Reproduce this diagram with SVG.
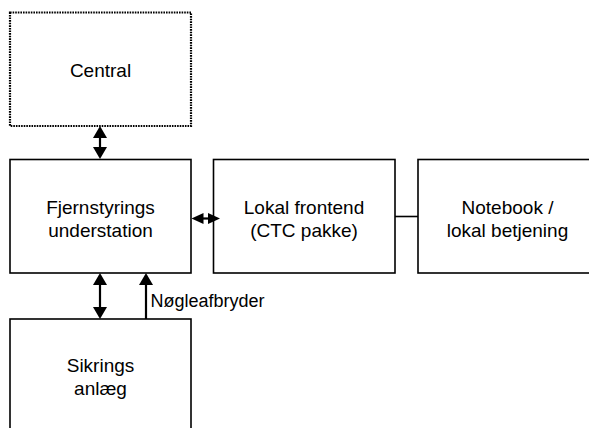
<svg xmlns="http://www.w3.org/2000/svg" width="589" height="428" viewBox="0 0 589 428">
  <style>
    .box { fill: #ffffff; stroke: #000000; stroke-width: 1.6; }
    .dotted { fill: #ffffff; stroke: #000000; stroke-width: 2.2; stroke-dasharray: 1.6 1; }
    .lbl { font-family: "Liberation Sans", Arial, sans-serif; font-size: 19px; fill: #000000; text-anchor: middle; }
    .note { font-family: "Liberation Sans", Arial, sans-serif; font-size: 18px; fill: #000000; }
    .wire { stroke: #000000; stroke-width: 2.2; fill: none; }
    .plain { stroke: #000000; stroke-width: 1.6; fill: none; }
  </style>
  <defs>
    <marker id="headV" markerUnits="userSpaceOnUse" markerWidth="12" markerHeight="14" refX="6" refY="7" orient="auto-start-reverse" viewBox="0 0 12 14">
      <path d="M0,0 L12,7 L0,14 z" fill="#000000"/>
    </marker>
    <marker id="headH" markerUnits="userSpaceOnUse" markerWidth="12" markerHeight="11" refX="6" refY="5.5" orient="auto-start-reverse" viewBox="0 0 12 11">
      <path d="M0,0 L12,5.5 L0,11 z" fill="#000000"/>
    </marker>
  </defs>

  <g id="central">
    <rect class="dotted" x="10" y="12.5" width="181" height="113.5"/>
    <text class="lbl" x="100.5" y="77">Central</text>
  </g>

  <g id="fjernstyrings">
    <rect class="box" x="10" y="159.5" width="181" height="113.5"/>
    <text class="lbl" x="100.5" y="213.5">Fjernstyrings</text>
    <text class="lbl" x="100.5" y="236.5">understation</text>
  </g>

  <g id="lokal-frontend">
    <rect class="box" x="213.5" y="159.5" width="181.5" height="113.5"/>
    <text class="lbl" x="304" y="213.5">Lokal frontend</text>
    <text class="lbl" x="304" y="236.5">(CTC pakke)</text>
  </g>

  <g id="notebook">
    <rect class="box" x="418" y="159.5" width="180" height="113.5"/>
    <text class="lbl" x="507.5" y="213.5">Notebook /</text>
    <text class="lbl" x="507.5" y="236.5">lokal betjening</text>
  </g>

  <g id="sikrings">
    <rect class="box" x="10" y="319" width="181" height="120"/>
    <text class="lbl" x="100.5" y="372">Sikrings</text>
    <text class="lbl" x="100.5" y="395">anlæg</text>
  </g>

  <g id="connectors">
    <line class="wire" x1="100" y1="132" x2="100" y2="153" marker-start="url(#headV)" marker-end="url(#headV)"/>
    <line class="wire" x1="100" y1="279" x2="100" y2="313" marker-start="url(#headV)" marker-end="url(#headV)"/>
    <line class="wire" x1="146" y1="319" x2="146" y2="279" marker-end="url(#headV)"/>
    <line class="wire" x1="197.5" y1="218.5" x2="214" y2="218.5" marker-start="url(#headH)" marker-end="url(#headH)"/>
    <line class="plain" x1="395" y1="216.5" x2="418" y2="216.5"/>
    <text class="note" x="150.5" y="307">Nøgleafbryder</text>
  </g>
</svg>
